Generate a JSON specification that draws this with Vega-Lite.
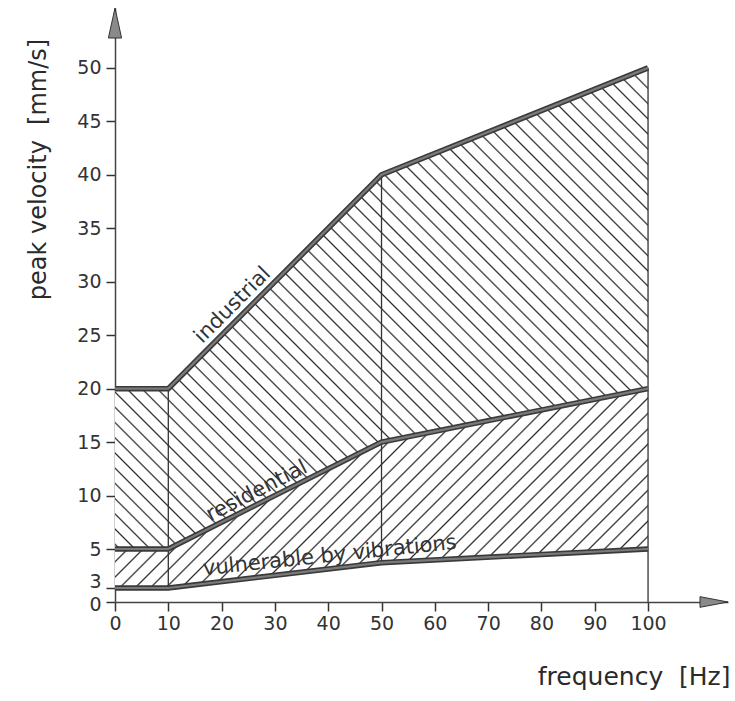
{
  "$schema": "https://vega.github.io/schema/vega-lite/v6.json",
  "width": 613,
  "height": 594,
  "autosize": {"type": "none"},
  "padding": {"left": 115, "top": 8, "right": 7, "bottom": 99},
  "background": "white",
  "config": {"view": {"stroke": null}, "font": "DejaVu Sans"},
  "datasets": {
    "bounds": [
      {"f": 0, "industrial": 20, "residential": 5, "vulnerable": 3},
      {"f": 10, "industrial": 20, "residential": 5, "vulnerable": 3},
      {"f": 50, "industrial": 40, "residential": 15, "vulnerable": 4.3},
      {"f": 100, "industrial": 50, "residential": 20, "vulnerable": 5}
    ],
    "verticals": [
      {"f": 10, "lo": 3, "hi": 20},
      {"f": 50, "lo": 4.3, "hi": 40},
      {"f": 100, "lo": 0, "hi": 50}
    ],
    "xend": [{"f": 115, "v": 0}],
    "yend": [{"f": 0, "v": 55.6}],
    "lab_ind": [{"f": 22.1, "v": 27.8, "label": "industrial"}],
    "lab_res": [{"f": 26.6, "v": 10.4, "label": "residential"}],
    "lab_vul": [{"f": 40.3, "v": 4.64, "label": "vulnerable by vibrations"}]
  },
  "layer": [
    {
      "data": {"name": "bounds"},
      "mark": {
        "type": "area", "opacity": 1,
        "fill": {"gradient": "linear", "x1": 0, "y1": 1, "x2": 1.0484, "y2": 0.0537, "stops": [
{"offset":0.003,"color":"#fff"},{"offset":0.0047,"color":"#2b2b2b"},{"offset":0.0064,"color":"#fff"},
{"offset":0.018,"color":"#fff"},{"offset":0.0197,"color":"#2b2b2b"},{"offset":0.0214,"color":"#fff"},
{"offset":0.033,"color":"#fff"},{"offset":0.0347,"color":"#2b2b2b"},{"offset":0.0364,"color":"#fff"},
{"offset":0.048,"color":"#fff"},{"offset":0.0497,"color":"#2b2b2b"},{"offset":0.0514,"color":"#fff"},
{"offset":0.063,"color":"#fff"},{"offset":0.0647,"color":"#2b2b2b"},{"offset":0.0664,"color":"#fff"},
{"offset":0.078,"color":"#fff"},{"offset":0.0797,"color":"#2b2b2b"},{"offset":0.0814,"color":"#fff"},
{"offset":0.093,"color":"#fff"},{"offset":0.0947,"color":"#2b2b2b"},{"offset":0.0964,"color":"#fff"},
{"offset":0.108,"color":"#fff"},{"offset":0.1097,"color":"#2b2b2b"},{"offset":0.1114,"color":"#fff"},
{"offset":0.123,"color":"#fff"},{"offset":0.1247,"color":"#2b2b2b"},{"offset":0.1264,"color":"#fff"},
{"offset":0.138,"color":"#fff"},{"offset":0.1397,"color":"#2b2b2b"},{"offset":0.1414,"color":"#fff"},
{"offset":0.153,"color":"#fff"},{"offset":0.1547,"color":"#2b2b2b"},{"offset":0.1564,"color":"#fff"},
{"offset":0.168,"color":"#fff"},{"offset":0.1697,"color":"#2b2b2b"},{"offset":0.1714,"color":"#fff"},
{"offset":0.183,"color":"#fff"},{"offset":0.1847,"color":"#2b2b2b"},{"offset":0.1864,"color":"#fff"},
{"offset":0.198,"color":"#fff"},{"offset":0.1997,"color":"#2b2b2b"},{"offset":0.2014,"color":"#fff"},
{"offset":0.213,"color":"#fff"},{"offset":0.2147,"color":"#2b2b2b"},{"offset":0.2164,"color":"#fff"},
{"offset":0.228,"color":"#fff"},{"offset":0.2297,"color":"#2b2b2b"},{"offset":0.2314,"color":"#fff"},
{"offset":0.243,"color":"#fff"},{"offset":0.2447,"color":"#2b2b2b"},{"offset":0.2464,"color":"#fff"},
{"offset":0.258,"color":"#fff"},{"offset":0.2597,"color":"#2b2b2b"},{"offset":0.2614,"color":"#fff"},
{"offset":0.273,"color":"#fff"},{"offset":0.2747,"color":"#2b2b2b"},{"offset":0.2764,"color":"#fff"},
{"offset":0.288,"color":"#fff"},{"offset":0.2897,"color":"#2b2b2b"},{"offset":0.2914,"color":"#fff"},
{"offset":0.303,"color":"#fff"},{"offset":0.3047,"color":"#2b2b2b"},{"offset":0.3064,"color":"#fff"},
{"offset":0.318,"color":"#fff"},{"offset":0.3197,"color":"#2b2b2b"},{"offset":0.3214,"color":"#fff"},
{"offset":0.333,"color":"#fff"},{"offset":0.3347,"color":"#2b2b2b"},{"offset":0.3364,"color":"#fff"},
{"offset":0.348,"color":"#fff"},{"offset":0.3497,"color":"#2b2b2b"},{"offset":0.3514,"color":"#fff"},
{"offset":0.363,"color":"#fff"},{"offset":0.3647,"color":"#2b2b2b"},{"offset":0.3664,"color":"#fff"},
{"offset":0.378,"color":"#fff"},{"offset":0.3797,"color":"#2b2b2b"},{"offset":0.3814,"color":"#fff"},
{"offset":0.393,"color":"#fff"},{"offset":0.3947,"color":"#2b2b2b"},{"offset":0.3964,"color":"#fff"},
{"offset":0.408,"color":"#fff"},{"offset":0.4097,"color":"#2b2b2b"},{"offset":0.4114,"color":"#fff"},
{"offset":0.423,"color":"#fff"},{"offset":0.4247,"color":"#2b2b2b"},{"offset":0.4264,"color":"#fff"},
{"offset":0.438,"color":"#fff"},{"offset":0.4397,"color":"#2b2b2b"},{"offset":0.4414,"color":"#fff"},
{"offset":0.453,"color":"#fff"},{"offset":0.4547,"color":"#2b2b2b"},{"offset":0.4564,"color":"#fff"},
{"offset":0.468,"color":"#fff"},{"offset":0.4697,"color":"#2b2b2b"},{"offset":0.4714,"color":"#fff"},
{"offset":0.483,"color":"#fff"},{"offset":0.4847,"color":"#2b2b2b"},{"offset":0.4864,"color":"#fff"},
{"offset":0.498,"color":"#fff"},{"offset":0.4997,"color":"#2b2b2b"},{"offset":0.5014,"color":"#fff"},
{"offset":0.513,"color":"#fff"},{"offset":0.5147,"color":"#2b2b2b"},{"offset":0.5164,"color":"#fff"},
{"offset":0.528,"color":"#fff"},{"offset":0.5297,"color":"#2b2b2b"},{"offset":0.5314,"color":"#fff"},
{"offset":0.543,"color":"#fff"},{"offset":0.5447,"color":"#2b2b2b"},{"offset":0.5464,"color":"#fff"},
{"offset":0.558,"color":"#fff"},{"offset":0.5597,"color":"#2b2b2b"},{"offset":0.5614,"color":"#fff"},
{"offset":0.573,"color":"#fff"},{"offset":0.5747,"color":"#2b2b2b"},{"offset":0.5764,"color":"#fff"},
{"offset":0.588,"color":"#fff"},{"offset":0.5897,"color":"#2b2b2b"},{"offset":0.5914,"color":"#fff"},
{"offset":0.603,"color":"#fff"},{"offset":0.6047,"color":"#2b2b2b"},{"offset":0.6064,"color":"#fff"},
{"offset":0.618,"color":"#fff"},{"offset":0.6197,"color":"#2b2b2b"},{"offset":0.6214,"color":"#fff"},
{"offset":0.633,"color":"#fff"},{"offset":0.6347,"color":"#2b2b2b"},{"offset":0.6364,"color":"#fff"},
{"offset":0.648,"color":"#fff"},{"offset":0.6497,"color":"#2b2b2b"},{"offset":0.6514,"color":"#fff"},
{"offset":0.663,"color":"#fff"},{"offset":0.6647,"color":"#2b2b2b"},{"offset":0.6664,"color":"#fff"},
{"offset":0.678,"color":"#fff"},{"offset":0.6797,"color":"#2b2b2b"},{"offset":0.6814,"color":"#fff"},
{"offset":0.693,"color":"#fff"},{"offset":0.6947,"color":"#2b2b2b"},{"offset":0.6964,"color":"#fff"},
{"offset":0.708,"color":"#fff"},{"offset":0.7097,"color":"#2b2b2b"},{"offset":0.7114,"color":"#fff"},
{"offset":0.723,"color":"#fff"},{"offset":0.7247,"color":"#2b2b2b"},{"offset":0.7264,"color":"#fff"},
{"offset":0.738,"color":"#fff"},{"offset":0.7397,"color":"#2b2b2b"},{"offset":0.7414,"color":"#fff"},
{"offset":0.753,"color":"#fff"},{"offset":0.7547,"color":"#2b2b2b"},{"offset":0.7564,"color":"#fff"},
{"offset":0.768,"color":"#fff"},{"offset":0.7697,"color":"#2b2b2b"},{"offset":0.7714,"color":"#fff"},
{"offset":0.783,"color":"#fff"},{"offset":0.7847,"color":"#2b2b2b"},{"offset":0.7864,"color":"#fff"},
{"offset":0.798,"color":"#fff"},{"offset":0.7997,"color":"#2b2b2b"},{"offset":0.8014,"color":"#fff"},
{"offset":0.813,"color":"#fff"},{"offset":0.8147,"color":"#2b2b2b"},{"offset":0.8164,"color":"#fff"},
{"offset":0.828,"color":"#fff"},{"offset":0.8297,"color":"#2b2b2b"},{"offset":0.8314,"color":"#fff"},
{"offset":0.843,"color":"#fff"},{"offset":0.8447,"color":"#2b2b2b"},{"offset":0.8464,"color":"#fff"},
{"offset":0.858,"color":"#fff"},{"offset":0.8597,"color":"#2b2b2b"},{"offset":0.8614,"color":"#fff"},
{"offset":0.873,"color":"#fff"},{"offset":0.8747,"color":"#2b2b2b"},{"offset":0.8764,"color":"#fff"},
{"offset":0.888,"color":"#fff"},{"offset":0.8897,"color":"#2b2b2b"},{"offset":0.8914,"color":"#fff"},
{"offset":0.903,"color":"#fff"},{"offset":0.9047,"color":"#2b2b2b"},{"offset":0.9064,"color":"#fff"},
{"offset":0.918,"color":"#fff"},{"offset":0.9197,"color":"#2b2b2b"},{"offset":0.9214,"color":"#fff"},
{"offset":0.933,"color":"#fff"},{"offset":0.9347,"color":"#2b2b2b"},{"offset":0.9364,"color":"#fff"},
{"offset":0.948,"color":"#fff"},{"offset":0.9497,"color":"#2b2b2b"},{"offset":0.9514,"color":"#fff"},
{"offset":0.963,"color":"#fff"},{"offset":0.9647,"color":"#2b2b2b"},{"offset":0.9664,"color":"#fff"},
{"offset":0.978,"color":"#fff"},{"offset":0.9797,"color":"#2b2b2b"},{"offset":0.9814,"color":"#fff"}
        ]}
      },
      "encoding": {
        "x": {"field": "f", "type": "quantitative",
          "scale": {"domain": [0, 115], "nice": false, "zero": false},
          "axis": {"values": [0,10,20,30,40,50,60,70,80,90,100], "grid": false, "tickSize": 9, "tickWidth": 1.5, "tickColor": "#333",
            "domainColor": "#444", "domainWidth": 1.5, "labelFont": "DejaVu Sans", "labelFontSize": 19, "labelColor": "#333",
            "labelPadding": 3, "labelFlush": false, "labelOverlap": false,
            "title": "frequency\u00a0\u00a0[Hz]", "titleFont": "DejaVu Sans", "titleFontSize": 25, "titleFontWeight": "normal", "titleColor": "#2a2a2a",
            "titleX": 615, "titleY": 74, "titleAlign": "right", "titleBaseline": "middle"}},
        "y": {"field": "industrial", "type": "quantitative",
          "scale": {"domain": [0, 3, 5, 55.6], "range": [594, 580, 541, 0], "nice": false, "zero": false},
          "axis": {"values": [0,3,5,10,15,20,25,30,35,40,45,50], "grid": false, "tickSize": 9, "tickWidth": 1.5, "tickColor": "#333",
            "domainColor": "#444", "domainWidth": 1.5, "labelFont": "DejaVu Sans", "labelFontSize": 19, "labelColor": "#333",
            "labelPadding": 5, "labelFlush": false, "labelOverlap": false,
            "labelOffset": {"condition": [{"test": "datum.value === 3", "value": -7}, {"test": "datum.value === 0", "value": 2}], "value": 0},
            "title": "peak velocity\u00a0\u00a0[mm/s]", "titleFont": "DejaVu Sans", "titleFontSize": 24, "titleFontWeight": "normal", "titleColor": "#2a2a2a",
            "titleX": -77, "titleY": 161, "titleAngle": -90, "titleAlign": "center", "titleBaseline": "middle"}},
        "y2": {"field": "residential"}
      }
    },
    {
      "data": {"name": "bounds"},
      "mark": {
        "type": "area", "opacity": 1,
        "fill": {"gradient": "linear", "x1": 0, "y1": 0, "x2": 1.2054, "y2": 0.4509, "stops": [
{"offset":0.003,"color":"#fff"},{"offset":0.0054,"color":"#2b2b2b"},{"offset":0.0078,"color":"#fff"},
{"offset":0.024,"color":"#fff"},{"offset":0.0264,"color":"#2b2b2b"},{"offset":0.0288,"color":"#fff"},
{"offset":0.045,"color":"#fff"},{"offset":0.0474,"color":"#2b2b2b"},{"offset":0.0498,"color":"#fff"},
{"offset":0.066,"color":"#fff"},{"offset":0.0684,"color":"#2b2b2b"},{"offset":0.0708,"color":"#fff"},
{"offset":0.087,"color":"#fff"},{"offset":0.0894,"color":"#2b2b2b"},{"offset":0.0918,"color":"#fff"},
{"offset":0.108,"color":"#fff"},{"offset":0.1104,"color":"#2b2b2b"},{"offset":0.1128,"color":"#fff"},
{"offset":0.129,"color":"#fff"},{"offset":0.1314,"color":"#2b2b2b"},{"offset":0.1338,"color":"#fff"},
{"offset":0.15,"color":"#fff"},{"offset":0.1524,"color":"#2b2b2b"},{"offset":0.1548,"color":"#fff"},
{"offset":0.171,"color":"#fff"},{"offset":0.1734,"color":"#2b2b2b"},{"offset":0.1758,"color":"#fff"},
{"offset":0.192,"color":"#fff"},{"offset":0.1944,"color":"#2b2b2b"},{"offset":0.1968,"color":"#fff"},
{"offset":0.213,"color":"#fff"},{"offset":0.2154,"color":"#2b2b2b"},{"offset":0.2178,"color":"#fff"},
{"offset":0.234,"color":"#fff"},{"offset":0.2364,"color":"#2b2b2b"},{"offset":0.2388,"color":"#fff"},
{"offset":0.255,"color":"#fff"},{"offset":0.2574,"color":"#2b2b2b"},{"offset":0.2598,"color":"#fff"},
{"offset":0.276,"color":"#fff"},{"offset":0.2784,"color":"#2b2b2b"},{"offset":0.2808,"color":"#fff"},
{"offset":0.297,"color":"#fff"},{"offset":0.2994,"color":"#2b2b2b"},{"offset":0.3018,"color":"#fff"},
{"offset":0.318,"color":"#fff"},{"offset":0.3204,"color":"#2b2b2b"},{"offset":0.3228,"color":"#fff"},
{"offset":0.339,"color":"#fff"},{"offset":0.3414,"color":"#2b2b2b"},{"offset":0.3438,"color":"#fff"},
{"offset":0.36,"color":"#fff"},{"offset":0.3624,"color":"#2b2b2b"},{"offset":0.3648,"color":"#fff"},
{"offset":0.381,"color":"#fff"},{"offset":0.3834,"color":"#2b2b2b"},{"offset":0.3858,"color":"#fff"},
{"offset":0.402,"color":"#fff"},{"offset":0.4044,"color":"#2b2b2b"},{"offset":0.4068,"color":"#fff"},
{"offset":0.423,"color":"#fff"},{"offset":0.4254,"color":"#2b2b2b"},{"offset":0.4278,"color":"#fff"},
{"offset":0.444,"color":"#fff"},{"offset":0.4464,"color":"#2b2b2b"},{"offset":0.4488,"color":"#fff"},
{"offset":0.465,"color":"#fff"},{"offset":0.4674,"color":"#2b2b2b"},{"offset":0.4698,"color":"#fff"},
{"offset":0.486,"color":"#fff"},{"offset":0.4884,"color":"#2b2b2b"},{"offset":0.4908,"color":"#fff"},
{"offset":0.507,"color":"#fff"},{"offset":0.5094,"color":"#2b2b2b"},{"offset":0.5118,"color":"#fff"},
{"offset":0.528,"color":"#fff"},{"offset":0.5304,"color":"#2b2b2b"},{"offset":0.5328,"color":"#fff"},
{"offset":0.549,"color":"#fff"},{"offset":0.5514,"color":"#2b2b2b"},{"offset":0.5538,"color":"#fff"},
{"offset":0.57,"color":"#fff"},{"offset":0.5724,"color":"#2b2b2b"},{"offset":0.5748,"color":"#fff"},
{"offset":0.591,"color":"#fff"},{"offset":0.5934,"color":"#2b2b2b"},{"offset":0.5958,"color":"#fff"},
{"offset":0.612,"color":"#fff"},{"offset":0.6144,"color":"#2b2b2b"},{"offset":0.6168,"color":"#fff"},
{"offset":0.633,"color":"#fff"},{"offset":0.6354,"color":"#2b2b2b"},{"offset":0.6378,"color":"#fff"},
{"offset":0.654,"color":"#fff"},{"offset":0.6564,"color":"#2b2b2b"},{"offset":0.6588,"color":"#fff"},
{"offset":0.675,"color":"#fff"},{"offset":0.6774,"color":"#2b2b2b"},{"offset":0.6798,"color":"#fff"},
{"offset":0.696,"color":"#fff"},{"offset":0.6984,"color":"#2b2b2b"},{"offset":0.7008,"color":"#fff"},
{"offset":0.717,"color":"#fff"},{"offset":0.7194,"color":"#2b2b2b"},{"offset":0.7218,"color":"#fff"},
{"offset":0.738,"color":"#fff"},{"offset":0.7404,"color":"#2b2b2b"},{"offset":0.7428,"color":"#fff"},
{"offset":0.759,"color":"#fff"},{"offset":0.7614,"color":"#2b2b2b"},{"offset":0.7638,"color":"#fff"},
{"offset":0.78,"color":"#fff"},{"offset":0.7824,"color":"#2b2b2b"},{"offset":0.7848,"color":"#fff"},
{"offset":0.801,"color":"#fff"},{"offset":0.8034,"color":"#2b2b2b"},{"offset":0.8058,"color":"#fff"},
{"offset":0.822,"color":"#fff"},{"offset":0.8244,"color":"#2b2b2b"},{"offset":0.8268,"color":"#fff"},
{"offset":0.843,"color":"#fff"},{"offset":0.8454,"color":"#2b2b2b"},{"offset":0.8478,"color":"#fff"},
{"offset":0.864,"color":"#fff"},{"offset":0.8664,"color":"#2b2b2b"},{"offset":0.8688,"color":"#fff"},
{"offset":0.885,"color":"#fff"},{"offset":0.8874,"color":"#2b2b2b"},{"offset":0.8898,"color":"#fff"},
{"offset":0.906,"color":"#fff"},{"offset":0.9084,"color":"#2b2b2b"},{"offset":0.9108,"color":"#fff"},
{"offset":0.927,"color":"#fff"},{"offset":0.9294,"color":"#2b2b2b"},{"offset":0.9318,"color":"#fff"},
{"offset":0.948,"color":"#fff"},{"offset":0.9504,"color":"#2b2b2b"},{"offset":0.9528,"color":"#fff"},
{"offset":0.969,"color":"#fff"},{"offset":0.9714,"color":"#2b2b2b"},{"offset":0.9738,"color":"#fff"},
{"offset":0.99,"color":"#fff"},{"offset":0.9924,"color":"#2b2b2b"},{"offset":0.9948,"color":"#fff"}
        ]}
      },
      "encoding": {
        "x": {"field": "f", "type": "quantitative", "scale": {"domain": [0, 115], "nice": false, "zero": false}},
        "y": {"field": "residential", "type": "quantitative", "scale": {"domain": [0, 3, 5, 55.6], "range": [594, 580, 541, 0], "nice": false, "zero": false}},
        "y2": {"field": "vulnerable"}
      }
    },
    {
      "data": {"name": "verticals"},
      "mark": {"type": "rule", "color": "#333", "strokeWidth": 1.3},
      "encoding": {
        "x": {"field": "f", "type": "quantitative", "scale": {"domain": [0, 115], "nice": false, "zero": false}},
        "y": {"field": "lo", "type": "quantitative", "scale": {"domain": [0, 3, 5, 55.6], "range": [594, 580, 541, 0], "nice": false, "zero": false}},
        "y2": {"field": "hi"}
      }
    },
    {
      "data": {"name": "bounds"},
      "transform": [{"fold": ["industrial", "residential", "vulnerable"], "as": ["series", "v"]}],
      "mark": {"type": "line", "color": "#3a3a3a", "strokeWidth": 5.5},
      "encoding": {
        "x": {"field": "f", "type": "quantitative", "scale": {"domain": [0, 115], "nice": false, "zero": false}},
        "y": {"field": "v", "type": "quantitative", "scale": {"domain": [0, 3, 5, 55.6], "range": [594, 580, 541, 0], "nice": false, "zero": false}},
        "detail": {"field": "series"}
      }
    },
    {
      "data": {"name": "bounds"},
      "transform": [{"fold": ["industrial", "residential", "vulnerable"], "as": ["series", "v"]}],
      "mark": {"type": "line", "color": "#7a7a7a", "strokeWidth": 2.2},
      "encoding": {
        "x": {"field": "f", "type": "quantitative", "scale": {"domain": [0, 115], "nice": false, "zero": false}},
        "y": {"field": "v", "type": "quantitative", "scale": {"domain": [0, 3, 5, 55.6], "range": [594, 580, 541, 0], "nice": false, "zero": false}},
        "detail": {"field": "series"}
      }
    },
    {
      "data": {"name": "xend"},
      "mark": {"type": "point", "shape": "M0,0L-1,-0.19L-1,0.19Z", "size": 3136, "filled": true, "fill": "#8a8a8a", "stroke": "#333", "strokeWidth": 1, "opacity": 1},
      "encoding": {
        "x": {"field": "f", "type": "quantitative", "scale": {"domain": [0, 115], "nice": false, "zero": false}},
        "y": {"field": "v", "type": "quantitative", "scale": {"domain": [0, 3, 5, 55.6], "range": [594, 580, 541, 0], "nice": false, "zero": false}}
      }
    },
    {
      "data": {"name": "yend"},
      "mark": {"type": "point", "shape": "M0,0L-0.22,1L0.22,1Z", "size": 3600, "filled": true, "fill": "#8a8a8a", "stroke": "#333", "strokeWidth": 1, "opacity": 1},
      "encoding": {
        "x": {"field": "f", "type": "quantitative", "scale": {"domain": [0, 115], "nice": false, "zero": false}},
        "y": {"field": "v", "type": "quantitative", "scale": {"domain": [0, 3, 5, 55.6], "range": [594, 580, 541, 0], "nice": false, "zero": false}}
      }
    },
    {
      "data": {"name": "lab_ind"},
      "mark": {"type": "text", "angle": -45, "font": "DejaVu Sans", "fontSize": 21, "color": "#333", "align": "center", "baseline": "middle"},
      "encoding": {
        "x": {"field": "f", "type": "quantitative", "scale": {"domain": [0, 115], "nice": false, "zero": false}},
        "y": {"field": "v", "type": "quantitative", "scale": {"domain": [0, 3, 5, 55.6], "range": [594, 580, 541, 0], "nice": false, "zero": false}},
        "text": {"field": "label"}
      }
    },
    {
      "data": {"name": "lab_res"},
      "mark": {"type": "text", "angle": -27, "font": "DejaVu Sans", "fontSize": 21, "color": "#333", "align": "center", "baseline": "middle"},
      "encoding": {
        "x": {"field": "f", "type": "quantitative", "scale": {"domain": [0, 115], "nice": false, "zero": false}},
        "y": {"field": "v", "type": "quantitative", "scale": {"domain": [0, 3, 5, 55.6], "range": [594, 580, 541, 0], "nice": false, "zero": false}},
        "text": {"field": "label"}
      }
    },
    {
      "data": {"name": "lab_vul"},
      "mark": {"type": "text", "angle": -6, "font": "DejaVu Sans", "fontSize": 21, "color": "#333", "align": "center", "baseline": "middle"},
      "encoding": {
        "x": {"field": "f", "type": "quantitative", "scale": {"domain": [0, 115], "nice": false, "zero": false}},
        "y": {"field": "v", "type": "quantitative", "scale": {"domain": [0, 3, 5, 55.6], "range": [594, 580, 541, 0], "nice": false, "zero": false}},
        "text": {"field": "label"}
      }
    }
  ]
}
